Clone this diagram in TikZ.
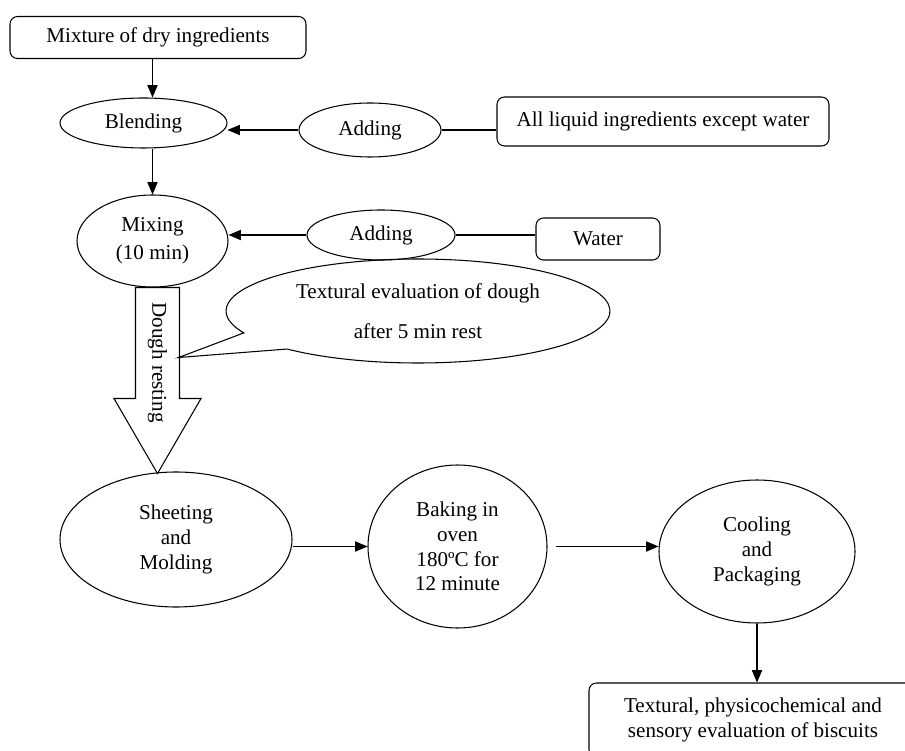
\documentclass[tikz,border=0pt]{standalone}
\usepackage{fontspec}
\setmainfont{Liberation Serif}
\usepackage{tikz}
\usetikzlibrary{shapes, arrows, positioning}
\usepackage{xcolor}

\begin{document}
\begin{tikzpicture}[font=\fontsize{12}{14}\selectfont, line width=0.6pt]
            \tikzstyle{stage} = [rectangle, rounded corners=0.15cm, text centered, align=center, draw=black]
            \tikzstyle{process} = [ellipse, draw=black, inner sep=0pt, align=center]
            \tikzstyle{arrow} = [-triangle 45]
            \tikzstyle{link} = [-]

            \path[use as bounding box, clip] (0,0) rectangle (18.1,-15.02);

            \node (dry)[stage, minimum width=5.92cm, minimum height=0.84cm] at (3.16,-0.75) {Mixture of dry ingredients};
            \node (blend)[process, below of=dry, yshift=-0.71cm, xshift=-0.29cm, minimum width=3.34cm, minimum height=1cm]{Blending};
            \node (add1)[process, right of=blend, xshift=3.53cm, yshift=-0.14cm, minimum width=2.84cm, minimum height=1.08cm]{Adding};
            \node (liquid)[stage, right of=add1, xshift=4.86cm, yshift=0.17cm, minimum width=6.64cm, minimum height=0.98cm]{All liquid ingredients except water};
            \node (mix)[process, below of=blend, yshift=-1.36cm, xshift=0.18cm, minimum width=3.02cm, minimum height=1.84cm, font=\fontsize{12}{16}\selectfont]{Mixing\\(10 min)};
            \node (add2)[process, right of=mix, xshift=3.57cm, yshift=0.12cm, minimum width=2.96cm, minimum height=1cm]{Adding};
            \node (water)[stage, right of=add2, xshift=3.34cm, yshift=-0.08cm, minimum width=2.48cm, minimum height=0.84cm]{Water};
            \node (call)[right of=mix, xshift=4.31cm, yshift=-1.40cm, align=center, font=\fontsize{12}{22.7}\selectfont]{Textural evaluation of dough\\after 5 min rest};
            \node (sheet)[process, below of=mix, yshift=-4.97cm, xshift=0.47cm, minimum width=4.64cm, minimum height=2.7cm]{Sheeting\\and\\Molding};
            \node (bake)[process, right of=sheet, xshift=4.63cm, yshift=-0.14cm, minimum width=3.58cm, minimum height=3.26cm]{Baking in\\oven\\180ºC for\\12 minute};
            \node (cool)[process, right of=bake, xshift=4.99cm, yshift=-0.10cm, minimum width=3.92cm, minimum height=2.86cm]{Cooling\\and\\Packaging};
            \node (eval)[stage, below of=cool, yshift=-2.37cm, xshift=-0.08cm, minimum width=6.56cm, minimum height=1.48cm]{Textural, physicochemical and\\sensory evaluation of biscuits};

            \coordinate (rtop) at ([xshift=0.10cm]mix.south);
            \coordinate (tip) at ([xshift=0.42cm, yshift=-1.40cm]rtop);
            \draw ([xshift=-0.44cm]rtop) -- ++(0,-2.22) -- ++(-0.43,0) -- ++(0.87,-1.5) -- ++(0.87,1.5) -- ++(-0.43,0) -- ++(0,2.22) -- cycle;
            \node (rest)[rotate=-90] at ([yshift=-1.5cm]rtop) {Dough resting};

            \draw ([shift={(227:3.84cm and 1.04cm)}]call.center) arc[start angle=227, end angle=564.9, x radius=3.84cm, y radius=1.04cm] -- (tip) -- cycle;

            \draw [arrow] (dry.south -| mix.north) -- (blend.north -| mix.north);
            \draw [arrow] (add1.west) -- (add1.west -| blend.east);
            \draw [link] (add1.east) -- (add1.east -| liquid.west);
            \draw [arrow] (blend.south -| mix.north) -- (mix.north);
            \draw [arrow] (add2.west) -- (add2.west -| mix.east);
            \draw [link] (add2.east) -- (add2.east -| water.west);
            \draw [arrow] (bake.west -| sheet.east) -- (bake.west);
            \draw [arrow] ([xshift=0.16cm]bake.east) -- (bake.east -| cool.west);
            \draw [arrow] (cool.south) -- (cool.south |- eval.north);
\end{tikzpicture}
\end{document}
